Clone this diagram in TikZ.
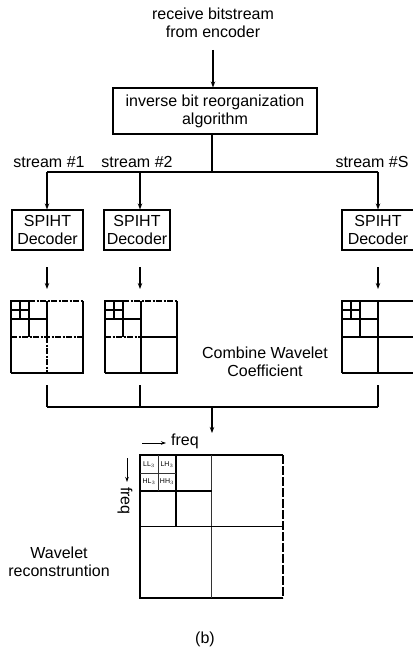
\documentclass[tikz,border=0pt]{standalone}
\usepackage{fontspec}
\setmainfont{Liberation Sans}
\usetikzlibrary{arrows.meta}
\begin{document}
\begin{tikzpicture}[x=1pt,y=-1pt,
  every node/.style={font=\fontsize{16}{18}\selectfont, align=center, inner sep=0pt},
  blk/.style={draw, line width=1.1pt},
  ln/.style={line width=1.2pt},
  dl/.style={line width=1.2pt, dash pattern=on 6pt off 1.5pt on 2pt off 1.5pt},
  thn/.style={line width=0.8pt, black!80},
  arr/.style={line width=1.1pt, -{Stealth[length=6pt,width=4.5pt]}},
  sub/.style={font=\fontsize{7}{7}\selectfont},
  wgrid/.pic={
    \draw[ln] (0,72) -- (0,0) -- (18,0) (72,0) -- (72,72) -- (0,72);
    \draw[ln] (36,0) -- (36,36);
    \draw[ln] (18,0) -- (18,36) (0,18) -- (36,18);
    \draw[ln] (9,0) -- (9,18) (0,9) -- (18,9);
  }
]
\useasboundingbox (0,0) rectangle (412,652);

% top
\node (src) at (213,23) {receive bitstream\\from encoder};
\coordinate (a0) at (213,50);
\node[blk, minimum width=204pt, minimum height=46pt] (inv) at (215,111) {inverse bit reorganization\\algorithm};
\draw[arr] (a0) -- (a0 |- inv.north);

% split
\coordinate (split) at (212,172);
\coordinate (b1) at (47,172);
\coordinate (b2) at (140,172);
\coordinate (b3) at (378,172);
\draw[ln] (split |- inv.south) -- (split);
\draw[ln] (b1) -- (b3);
\node (s1l) at (49,162) {stream \#1};
\node (s2l) at (137,162) {stream \#2};
\node (sSl) at (372,162) {stream \#S};

% decoders
\node[blk, minimum width=71pt, minimum height=40pt] (dec1) at (47.5,230) {SPIHT\\Decoder};
\node[blk, minimum width=66pt, minimum height=40pt] (dec2) at (137,230) {SPIHT\\Decoder};
\node[blk, minimum width=72pt, minimum height=40pt] (dec3) at (378,230) {SPIHT\\Decoder};
\draw[arr] (b1) -- (b1 |- dec1.north);
\draw[arr] (b2) -- (b2 |- dec2.north);
\draw[arr] (b3) -- (b3 |- dec3.north);

% arrows to coefficient maps
\coordinate (d1) at (47,267);
\coordinate (d2) at (140,267);
\coordinate (d3) at (378,267);
\coordinate (e1) at (47,289);
\coordinate (e2) at (140,289);
\coordinate (e3) at (378,289);
\draw[arr] (d1) -- (e1);
\draw[arr] (d2) -- (e2);
\draw[arr] (d3) -- (e3);

% coefficient maps
\pic (g1) at (11,301) {wgrid};
\draw[dl] (29,301) -- (83,301);
\draw[dl] (11,337) -- (83,337);
\draw[dl] (47,337) -- (47,373);
\pic (g2) at (105,301) {wgrid};
\draw[dl] (123,301) -- (177,301);
\draw[dl] (105,337) -- (141,337);
\draw[ln] (141,337) -- (177,337) (141,337) -- (141,373);
\pic (g3) at (342,301) {wgrid};
\draw[ln] (360,301) -- (414,301) (342,337) -- (414,337) (378,337) -- (378,373);

\node (comb) at (265,362) {Combine Wavelet\\Coefficient};

% combining bracket
\coordinate (c1) at (47,385);
\coordinate (c2) at (140,385);
\coordinate (c3) at (378,385);
\coordinate (m1) at (47,407);
\coordinate (m2) at (140,407);
\coordinate (m3) at (378,407);
\coordinate (mc) at (212,407);
\coordinate (mo) at (212,433);
\draw[ln] (c1) -- (m1) (c2) -- (m2) (c3) -- (m3);
\draw[ln] (m1) -- (m3);
\draw[arr] (mc) -- (mo);

% reconstructed map
\coordinate (fh0) at (142,443);
\coordinate (fh1) at (166,443);
\draw[line width=0.8pt, -{Stealth[length=5pt,width=3.5pt]}] (fh0) -- (fh1);
\node[anchor=west] (fhl) at (171,441) {freq};
\coordinate (fv0) at (127,458);
\coordinate (fv1) at (127,482);
\draw[line width=0.8pt, -{Stealth[length=5pt,width=3.5pt]}] (fv0) -- (fv1);
\node[rotate=-90, anchor=west] (fvl) at (125,487) {freq};

\draw[ln] (283,598) -- (140,598) -- (140,455) -- (283,455);
\draw[line width=1.2pt, dash pattern=on 9pt off 2pt] (283,455) -- (283,598);
\draw[thn] (211.5,455) -- (211.5,598);
\draw[ln] (140,526.5) -- (283,526.5);
\draw[ln] (176,455) -- (176,526.5);
\draw[ln] (140,491) -- (211.5,491);
\draw[thn] (158,455) -- (158,491);
\draw[thn] (140,473) -- (176,473);
\node[sub] (ll) at (149,464.5) {LL$_3$};
\node[sub] (lh) at (167,464.5) {LH$_3$};
\node[sub] (hl) at (149,482) {HL$_3$};
\node[sub] (hh) at (167,482) {HH$_3$};

\node (wr) at (59,562) {Wavelet\\reconstruntion};
\node (cap) at (205,639) {(b)};
\end{tikzpicture}
\end{document}
